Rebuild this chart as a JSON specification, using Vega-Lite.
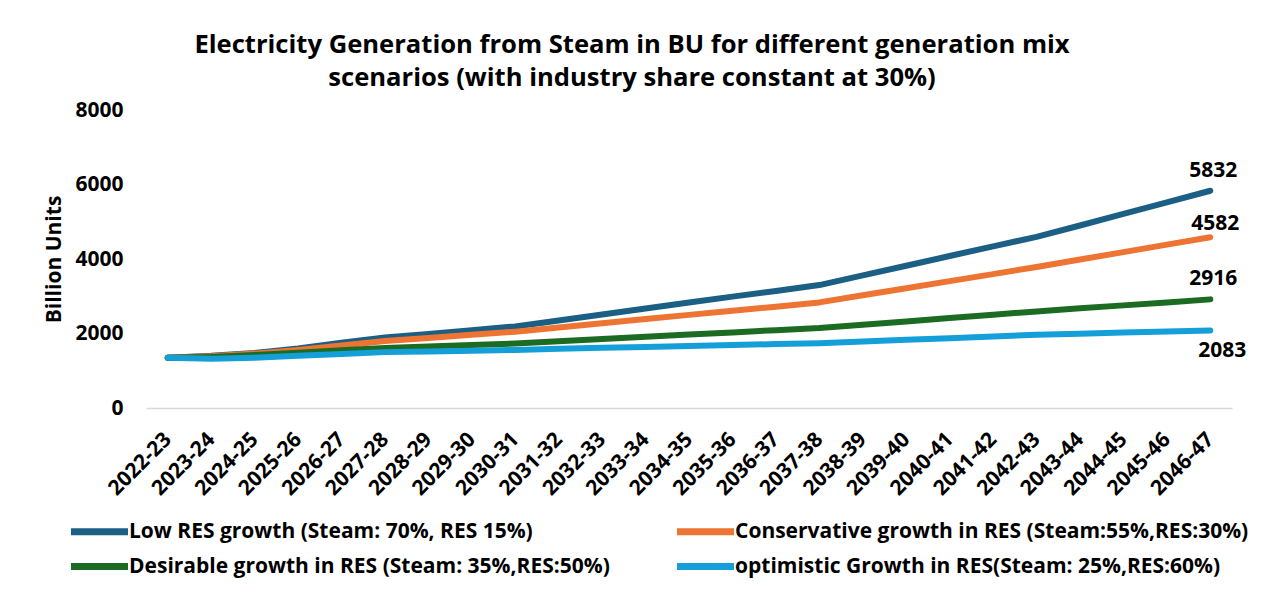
{
  "$schema": "https://vega.github.io/schema/vega-lite/v6.json",
  "width": 1086,
  "height": 298,
  "autosize": {"type": "none"},
  "padding": {"left": 146, "top": 110, "right": 31, "bottom": 193},
  "background": "white",
  "title": {
    "text": ["Electricity Generation from Steam in BU for different generation mix", "scenarios (with industry share constant at 30%)"],
    "font": "Open Sans",
    "fontSize": 25.6,
    "fontWeight": "bold",
    "color": "#000000",
    "anchor": "middle",
    "frame": "group",
    "dx": -57,
    "offset": 7,
    "lineHeight": 33
  },
  "config": {
    "view": {"stroke": null},
    "font": "Open Sans"
  },
  "data": {
    "values": [
      {"year": "2022-23", "scenario": "Low  RES growth (Steam: 70%, RES 15%)", "value": 1350},
      {"year": "2023-24", "scenario": "Low  RES growth (Steam: 70%, RES 15%)", "value": 1400},
      {"year": "2024-25", "scenario": "Low  RES growth (Steam: 70%, RES 15%)", "value": 1480},
      {"year": "2025-26", "scenario": "Low  RES growth (Steam: 70%, RES 15%)", "value": 1600},
      {"year": "2026-27", "scenario": "Low  RES growth (Steam: 70%, RES 15%)", "value": 1750},
      {"year": "2027-28", "scenario": "Low  RES growth (Steam: 70%, RES 15%)", "value": 1890},
      {"year": "2028-29", "scenario": "Low  RES growth (Steam: 70%, RES 15%)", "value": 1990},
      {"year": "2029-30", "scenario": "Low  RES growth (Steam: 70%, RES 15%)", "value": 2090},
      {"year": "2030-31", "scenario": "Low  RES growth (Steam: 70%, RES 15%)", "value": 2190},
      {"year": "2031-32", "scenario": "Low  RES growth (Steam: 70%, RES 15%)", "value": 2350},
      {"year": "2032-33", "scenario": "Low  RES growth (Steam: 70%, RES 15%)", "value": 2510},
      {"year": "2033-34", "scenario": "Low  RES growth (Steam: 70%, RES 15%)", "value": 2670},
      {"year": "2034-35", "scenario": "Low  RES growth (Steam: 70%, RES 15%)", "value": 2830},
      {"year": "2035-36", "scenario": "Low  RES growth (Steam: 70%, RES 15%)", "value": 2990},
      {"year": "2036-37", "scenario": "Low  RES growth (Steam: 70%, RES 15%)", "value": 3140},
      {"year": "2037-38", "scenario": "Low  RES growth (Steam: 70%, RES 15%)", "value": 3300},
      {"year": "2038-39", "scenario": "Low  RES growth (Steam: 70%, RES 15%)", "value": 3560},
      {"year": "2039-40", "scenario": "Low  RES growth (Steam: 70%, RES 15%)", "value": 3820},
      {"year": "2040-41", "scenario": "Low  RES growth (Steam: 70%, RES 15%)", "value": 4080},
      {"year": "2041-42", "scenario": "Low  RES growth (Steam: 70%, RES 15%)", "value": 4340},
      {"year": "2042-43", "scenario": "Low  RES growth (Steam: 70%, RES 15%)", "value": 4595},
      {"year": "2043-44", "scenario": "Low  RES growth (Steam: 70%, RES 15%)", "value": 4900},
      {"year": "2044-45", "scenario": "Low  RES growth (Steam: 70%, RES 15%)", "value": 5210},
      {"year": "2045-46", "scenario": "Low  RES growth (Steam: 70%, RES 15%)", "value": 5520},
      {"year": "2046-47", "scenario": "Low  RES growth (Steam: 70%, RES 15%)", "value": 5832},

      {"year": "2022-23", "scenario": "Conservative growth in RES (Steam:55%,RES:30%)", "value": 1350},
      {"year": "2023-24", "scenario": "Conservative growth in RES (Steam:55%,RES:30%)", "value": 1390},
      {"year": "2024-25", "scenario": "Conservative growth in RES (Steam:55%,RES:30%)", "value": 1460},
      {"year": "2025-26", "scenario": "Conservative growth in RES (Steam:55%,RES:30%)", "value": 1560},
      {"year": "2026-27", "scenario": "Conservative growth in RES (Steam:55%,RES:30%)", "value": 1680},
      {"year": "2027-28", "scenario": "Conservative growth in RES (Steam:55%,RES:30%)", "value": 1800},
      {"year": "2028-29", "scenario": "Conservative growth in RES (Steam:55%,RES:30%)", "value": 1880},
      {"year": "2029-30", "scenario": "Conservative growth in RES (Steam:55%,RES:30%)", "value": 1965},
      {"year": "2030-31", "scenario": "Conservative growth in RES (Steam:55%,RES:30%)", "value": 2050},
      {"year": "2031-32", "scenario": "Conservative growth in RES (Steam:55%,RES:30%)", "value": 2160},
      {"year": "2032-33", "scenario": "Conservative growth in RES (Steam:55%,RES:30%)", "value": 2275},
      {"year": "2033-34", "scenario": "Conservative growth in RES (Steam:55%,RES:30%)", "value": 2390},
      {"year": "2034-35", "scenario": "Conservative growth in RES (Steam:55%,RES:30%)", "value": 2500},
      {"year": "2035-36", "scenario": "Conservative growth in RES (Steam:55%,RES:30%)", "value": 2610},
      {"year": "2036-37", "scenario": "Conservative growth in RES (Steam:55%,RES:30%)", "value": 2720},
      {"year": "2037-38", "scenario": "Conservative growth in RES (Steam:55%,RES:30%)", "value": 2835},
      {"year": "2038-39", "scenario": "Conservative growth in RES (Steam:55%,RES:30%)", "value": 3025},
      {"year": "2039-40", "scenario": "Conservative growth in RES (Steam:55%,RES:30%)", "value": 3215},
      {"year": "2040-41", "scenario": "Conservative growth in RES (Steam:55%,RES:30%)", "value": 3405},
      {"year": "2041-42", "scenario": "Conservative growth in RES (Steam:55%,RES:30%)", "value": 3595},
      {"year": "2042-43", "scenario": "Conservative growth in RES (Steam:55%,RES:30%)", "value": 3787},
      {"year": "2043-44", "scenario": "Conservative growth in RES (Steam:55%,RES:30%)", "value": 3985},
      {"year": "2044-45", "scenario": "Conservative growth in RES (Steam:55%,RES:30%)", "value": 4185},
      {"year": "2045-46", "scenario": "Conservative growth in RES (Steam:55%,RES:30%)", "value": 4385},
      {"year": "2046-47", "scenario": "Conservative growth in RES (Steam:55%,RES:30%)", "value": 4582},

      {"year": "2022-23", "scenario": "Desirable growth in RES (Steam: 35%,RES:50%)", "value": 1350},
      {"year": "2023-24", "scenario": "Desirable growth in RES (Steam: 35%,RES:50%)", "value": 1370},
      {"year": "2024-25", "scenario": "Desirable growth in RES (Steam: 35%,RES:50%)", "value": 1420},
      {"year": "2025-26", "scenario": "Desirable growth in RES (Steam: 35%,RES:50%)", "value": 1480},
      {"year": "2026-27", "scenario": "Desirable growth in RES (Steam: 35%,RES:50%)", "value": 1550},
      {"year": "2027-28", "scenario": "Desirable growth in RES (Steam: 35%,RES:50%)", "value": 1610},
      {"year": "2028-29", "scenario": "Desirable growth in RES (Steam: 35%,RES:50%)", "value": 1650},
      {"year": "2029-30", "scenario": "Desirable growth in RES (Steam: 35%,RES:50%)", "value": 1690},
      {"year": "2030-31", "scenario": "Desirable growth in RES (Steam: 35%,RES:50%)", "value": 1730},
      {"year": "2031-32", "scenario": "Desirable growth in RES (Steam: 35%,RES:50%)", "value": 1790},
      {"year": "2032-33", "scenario": "Desirable growth in RES (Steam: 35%,RES:50%)", "value": 1850},
      {"year": "2033-34", "scenario": "Desirable growth in RES (Steam: 35%,RES:50%)", "value": 1910},
      {"year": "2034-35", "scenario": "Desirable growth in RES (Steam: 35%,RES:50%)", "value": 1970},
      {"year": "2035-36", "scenario": "Desirable growth in RES (Steam: 35%,RES:50%)", "value": 2030},
      {"year": "2036-37", "scenario": "Desirable growth in RES (Steam: 35%,RES:50%)", "value": 2090},
      {"year": "2037-38", "scenario": "Desirable growth in RES (Steam: 35%,RES:50%)", "value": 2145},
      {"year": "2038-39", "scenario": "Desirable growth in RES (Steam: 35%,RES:50%)", "value": 2235},
      {"year": "2039-40", "scenario": "Desirable growth in RES (Steam: 35%,RES:50%)", "value": 2325},
      {"year": "2040-41", "scenario": "Desirable growth in RES (Steam: 35%,RES:50%)", "value": 2415},
      {"year": "2041-42", "scenario": "Desirable growth in RES (Steam: 35%,RES:50%)", "value": 2505},
      {"year": "2042-43", "scenario": "Desirable growth in RES (Steam: 35%,RES:50%)", "value": 2592},
      {"year": "2043-44", "scenario": "Desirable growth in RES (Steam: 35%,RES:50%)", "value": 2675},
      {"year": "2044-45", "scenario": "Desirable growth in RES (Steam: 35%,RES:50%)", "value": 2755},
      {"year": "2045-46", "scenario": "Desirable growth in RES (Steam: 35%,RES:50%)", "value": 2835},
      {"year": "2046-47", "scenario": "Desirable growth in RES (Steam: 35%,RES:50%)", "value": 2916},

      {"year": "2022-23", "scenario": "optimistic Growth in RES(Steam: 25%,RES:60%)", "value": 1350},
      {"year": "2023-24", "scenario": "optimistic Growth in RES(Steam: 25%,RES:60%)", "value": 1320},
      {"year": "2024-25", "scenario": "optimistic Growth in RES(Steam: 25%,RES:60%)", "value": 1350},
      {"year": "2025-26", "scenario": "optimistic Growth in RES(Steam: 25%,RES:60%)", "value": 1400},
      {"year": "2026-27", "scenario": "optimistic Growth in RES(Steam: 25%,RES:60%)", "value": 1450},
      {"year": "2027-28", "scenario": "optimistic Growth in RES(Steam: 25%,RES:60%)", "value": 1500},
      {"year": "2028-29", "scenario": "optimistic Growth in RES(Steam: 25%,RES:60%)", "value": 1520},
      {"year": "2029-30", "scenario": "optimistic Growth in RES(Steam: 25%,RES:60%)", "value": 1540},
      {"year": "2030-31", "scenario": "optimistic Growth in RES(Steam: 25%,RES:60%)", "value": 1560},
      {"year": "2031-32", "scenario": "optimistic Growth in RES(Steam: 25%,RES:60%)", "value": 1590},
      {"year": "2032-33", "scenario": "optimistic Growth in RES(Steam: 25%,RES:60%)", "value": 1615},
      {"year": "2033-34", "scenario": "optimistic Growth in RES(Steam: 25%,RES:60%)", "value": 1640},
      {"year": "2034-35", "scenario": "optimistic Growth in RES(Steam: 25%,RES:60%)", "value": 1665},
      {"year": "2035-36", "scenario": "optimistic Growth in RES(Steam: 25%,RES:60%)", "value": 1690},
      {"year": "2036-37", "scenario": "optimistic Growth in RES(Steam: 25%,RES:60%)", "value": 1715},
      {"year": "2037-38", "scenario": "optimistic Growth in RES(Steam: 25%,RES:60%)", "value": 1740},
      {"year": "2038-39", "scenario": "optimistic Growth in RES(Steam: 25%,RES:60%)", "value": 1785},
      {"year": "2039-40", "scenario": "optimistic Growth in RES(Steam: 25%,RES:60%)", "value": 1830},
      {"year": "2040-41", "scenario": "optimistic Growth in RES(Steam: 25%,RES:60%)", "value": 1875},
      {"year": "2041-42", "scenario": "optimistic Growth in RES(Steam: 25%,RES:60%)", "value": 1920},
      {"year": "2042-43", "scenario": "optimistic Growth in RES(Steam: 25%,RES:60%)", "value": 1965},
      {"year": "2043-44", "scenario": "optimistic Growth in RES(Steam: 25%,RES:60%)", "value": 1995},
      {"year": "2044-45", "scenario": "optimistic Growth in RES(Steam: 25%,RES:60%)", "value": 2025},
      {"year": "2045-46", "scenario": "optimistic Growth in RES(Steam: 25%,RES:60%)", "value": 2055},
      {"year": "2046-47", "scenario": "optimistic Growth in RES(Steam: 25%,RES:60%)", "value": 2083}
    ]
  },
  "encoding": {
    "x": {
      "field": "year",
      "type": "ordinal",
      "sort": null,
      "scale": {"type": "point", "padding": 0.5},
      "axis": {
        "title": null,
        "labelAngle": -45,
        "labelAlign": "right",
        "labelBaseline": "middle",
        "labelFont": "Open Sans",
        "labelFontWeight": "bold",
        "labelFontSize": 21,
        "labelColor": "#000000",
        "labelPadding": 28,
        "ticks": false,
        "domainColor": "#d9d9d9",
        "domainWidth": 1.5
      }
    },
    "y": {
      "field": "value",
      "type": "quantitative",
      "scale": {"domain": [0, 8000], "nice": false},
      "axis": {
        "title": "Billion Units",
        "titleFont": "Open Sans",
        "titleFontWeight": "bold",
        "titleFontSize": 21,
        "titleColor": "#000000",
        "titlePadding": 10,
        "values": [0, 2000, 4000, 6000, 8000],
        "format": "d",
        "labelFont": "Open Sans",
        "labelFontWeight": "bold",
        "labelFontSize": 21,
        "labelColor": "#000000",
        "labelPadding": 23,
        "grid": false,
        "domain": false,
        "ticks": false
      }
    }
  },
  "layer": [
    {
      "mark": {"type": "line", "strokeWidth": 6, "strokeCap": "round", "strokeJoin": "round"},
      "encoding": {
        "color": {
          "field": "scenario",
          "type": "nominal",
          "scale": {
            "domain": [
              "Low  RES growth (Steam: 70%, RES 15%)",
              "Conservative growth in RES (Steam:55%,RES:30%)",
              "Desirable growth in RES (Steam: 35%,RES:50%)",
              "optimistic Growth in RES(Steam: 25%,RES:60%)"
            ],
            "range": ["#1b5f84", "#ed7433", "#1c6b22", "#149fd8"]
          },
          "legend": {
            "title": null,
            "orient": "none",
            "legendX": -65,
            "legendY": 403,
            "direction": "horizontal",
            "columns": 2,
            "symbolType": "M-1.9,0H1.9",
            "symbolSize": 900,
            "symbolStrokeWidth": 7,
            "labelFont": "Open Sans",
            "labelFontWeight": "bold",
            "labelFontSize": 21,
            "labelColor": "#000000",
            "labelOffset": 11,
            "labelLimit": 700,
            "rowPadding": 2,
            "columnPadding": 53
          }
        }
      }
    },
    {
      "transform": [{"filter": "datum.year === '2046-47' && (datum.value === 5832 || datum.value === 2916)"}],
      "mark": {"type": "text", "font": "Open Sans", "fontWeight": "bold", "fontSize": 21, "color": "#000000", "dy": -20, "dx": 3},
      "encoding": {"text": {"field": "value", "type": "quantitative", "format": "d"}}
    },
    {
      "transform": [{"filter": "datum.year === '2046-47' && datum.value === 4582"}],
      "mark": {"type": "text", "font": "Open Sans", "fontWeight": "bold", "fontSize": 21, "color": "#000000", "dy": -13, "dx": 5},
      "encoding": {"text": {"field": "value", "type": "quantitative", "format": "d"}}
    },
    {
      "transform": [{"filter": "datum.year === '2046-47' && datum.value === 2083"}],
      "mark": {"type": "text", "font": "Open Sans", "fontWeight": "bold", "fontSize": 21, "color": "#000000", "dy": 21, "dx": 12},
      "encoding": {"text": {"field": "value", "type": "quantitative", "format": "d"}}
    }
  ]
}
